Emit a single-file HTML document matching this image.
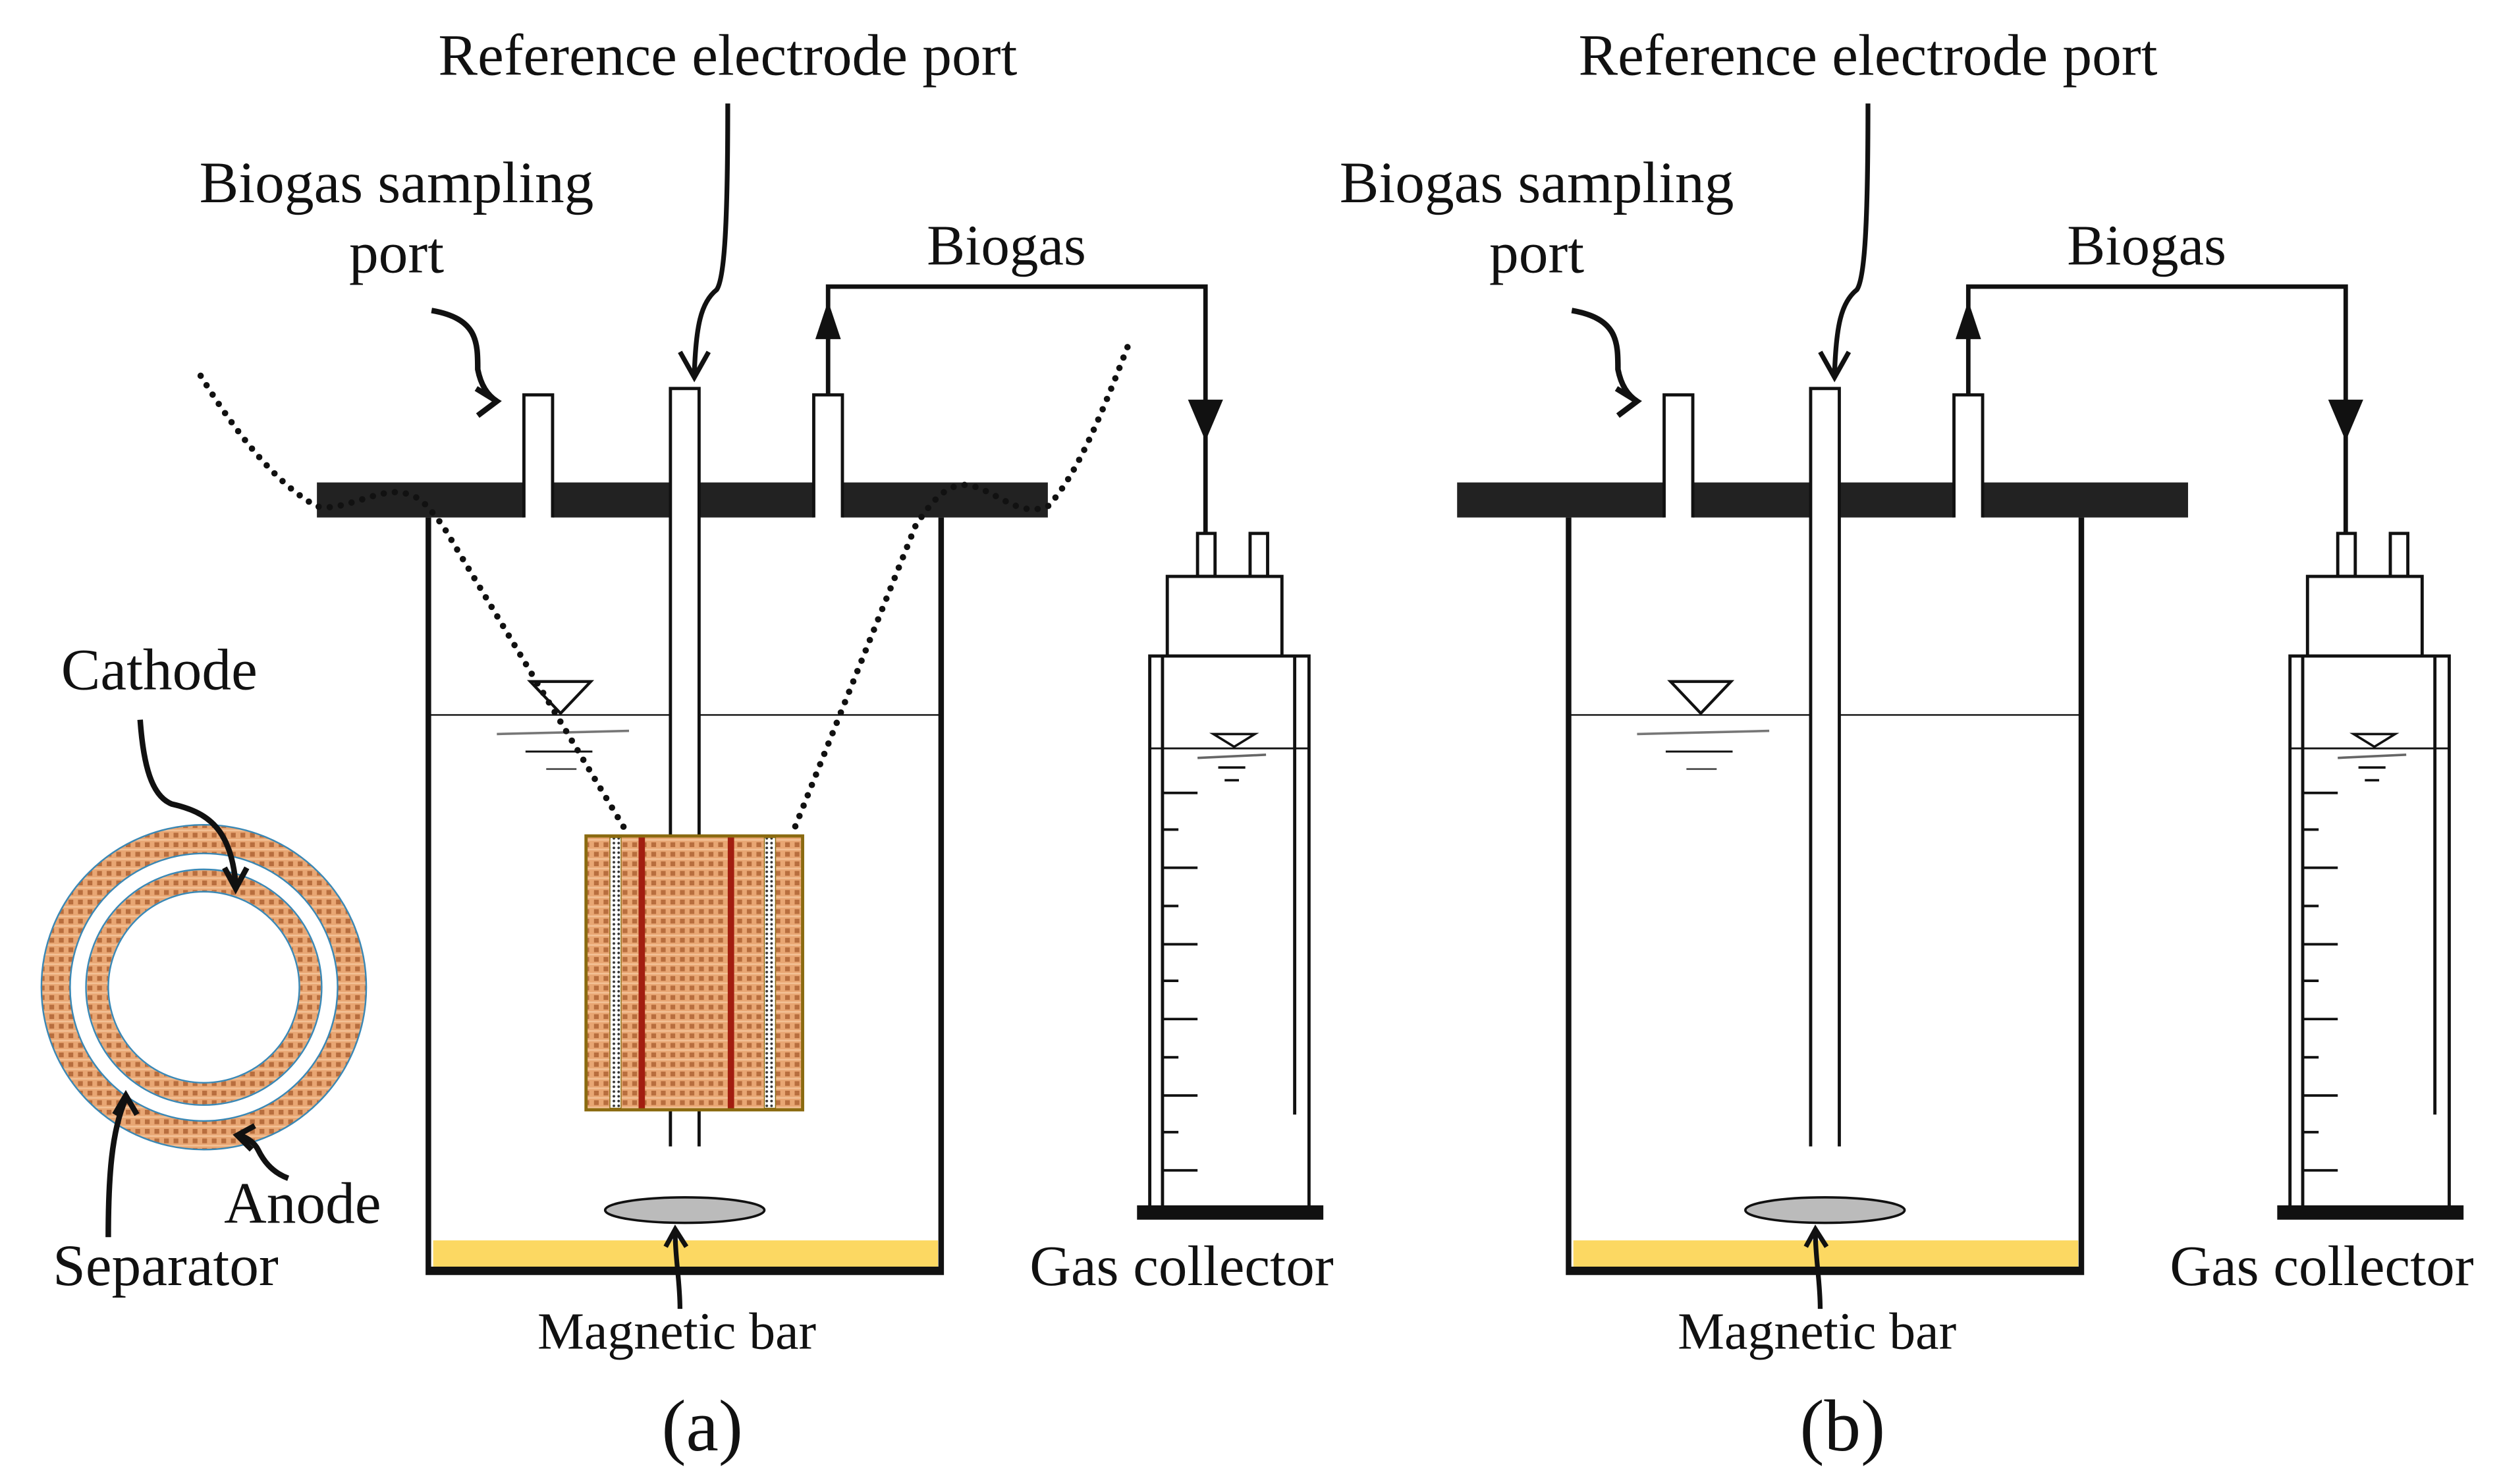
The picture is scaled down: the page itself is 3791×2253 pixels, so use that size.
<!DOCTYPE html>
<html><head><meta charset="utf-8"><style>
html,body{margin:0;padding:0;background:#fff;}
svg{display:block;}
text{font-family:"Liberation Serif",serif;fill:#111;}
</style></head><body>
<svg width="3791" height="2253" viewBox="0 0 1568 932" preserveAspectRatio="none" xmlns="http://www.w3.org/2000/svg">
<defs>
<pattern id="tex" width="6" height="6" patternUnits="userSpaceOnUse">
<rect width="6" height="6" fill="#e8a673"/>
<rect x="1" y="1" width="3" height="3" fill="#b86e3e"/>
<rect x="0" y="5" width="6" height="1" fill="#f3c196"/>
</pattern>
<pattern id="sep" width="3" height="3" patternUnits="userSpaceOnUse">
<rect width="3" height="3" fill="#fff"/>
<circle cx="1.5" cy="1.5" r="0.8" fill="#333"/>
</pattern>
<g id="collector" fill="none" stroke="#111">
<rect x="752" y="335" width="11" height="27" fill="#fff" stroke-width="2"/>
<rect x="785" y="335" width="11" height="27" fill="#fff" stroke-width="2"/>
<rect x="733" y="362" width="72" height="50" fill="#fff" stroke-width="2"/>
<rect x="722" y="412" width="100" height="348" fill="#fff" stroke-width="2"/>
<line x1="730" y1="412" x2="730" y2="758" stroke-width="2"/>
<line x1="813" y1="412" x2="813" y2="700" stroke-width="2"/>
<rect x="714" y="757" width="117" height="9" fill="#111" stroke="none"/>
<line x1="722" y1="470" x2="822" y2="470" stroke-width="1.2"/>
<path d="M762 461 L788 461 L775 469 Z" fill="#fff" stroke-width="1.5"/>
<line x1="752" y1="476" x2="795" y2="474" stroke-width="1.5" stroke="#666"/>
<line x1="765" y1="482" x2="782" y2="482" stroke-width="1.5"/>
<line x1="769" y1="490" x2="778" y2="490" stroke-width="1.5"/>
<g stroke-width="1.6">
<line x1="730" y1="498" x2="752" y2="498"/><line x1="730" y1="521" x2="740" y2="521"/>
<line x1="730" y1="545" x2="752" y2="545"/><line x1="730" y1="569" x2="740" y2="569"/>
<line x1="730" y1="593" x2="752" y2="593"/><line x1="730" y1="616" x2="740" y2="616"/>
<line x1="730" y1="640" x2="752" y2="640"/><line x1="730" y1="664" x2="740" y2="664"/>
<line x1="730" y1="688" x2="752" y2="688"/><line x1="730" y1="711" x2="740" y2="711"/>
<line x1="730" y1="735" x2="752" y2="735"/>
</g>
</g>
<g id="reactor">
<rect x="272" y="779" width="317" height="17" fill="#fcd862"/>
<path d="M269 325 L269 799 L591 799 L591 325" fill="none" stroke="#111" stroke-width="3.5"/>
<line x1="270" y1="797" x2="590" y2="797" stroke="#111" stroke-width="3"/>
<line x1="270" y1="449" x2="590" y2="449" stroke="#111" stroke-width="1"/>
<path d="M333 428 L371 428 L352 448 Z" fill="#fff" stroke="#111" stroke-width="1.8"/>
<line x1="312" y1="461" x2="395" y2="459" stroke="#777" stroke-width="1.5"/>
<line x1="330" y1="472" x2="372" y2="472" stroke="#111" stroke-width="1.2"/>
<line x1="343" y1="483" x2="362" y2="483" stroke="#555" stroke-width="1.2"/>
<rect x="199" y="303" width="130" height="22" fill="#222"/>
<rect x="347" y="303" width="74" height="22" fill="#222"/>
<rect x="439" y="303" width="72" height="22" fill="#222"/>
<rect x="529" y="303" width="129" height="22" fill="#222"/>
<path d="M329 325 L329 248 L347 248 L347 325" fill="#fff" stroke="#111" stroke-width="2"/>
<path d="M511 325 L511 248 L529 248 L529 325" fill="#fff" stroke="#111" stroke-width="2"/>
<path d="M421 720 L421 244 L439 244 L439 720" fill="#fff" stroke="#111" stroke-width="2"/>
<ellipse cx="430" cy="760" rx="50" ry="8" fill="#bbb" stroke="#111" stroke-width="1.5"/>
<path d="M427 822 C427 805 424 790 424 775" fill="none" stroke="#111" stroke-width="3"/>
<path d="M418 783 L424 772 L431 783" fill="none" stroke="#111" stroke-width="3"/>
<path d="M520 248 L520 180 L757 180 L757 335" fill="none" stroke="#111" stroke-width="2.8"/>
<path d="M512 213 L520 189 L528 213 Z" fill="#111"/>
<path d="M746 251 L757 277 L768 251 Z" fill="#111"/>
<path d="M271 195 C300 200 300 215 300 232 C302 242 306 248 312 252" fill="none" stroke="#111" stroke-width="3.5"/>
<path d="M299 244 L312 252 L300 261" fill="none" stroke="#111" stroke-width="3.5"/>
<path d="M457 65 C457 140 455 175 450 182 C440 190 437 205 436 235" fill="none" stroke="#111" stroke-width="3"/>
<path d="M427 221 L436 237 L445 221" fill="none" stroke="#111" stroke-width="3"/>
<text x="457" y="47" font-size="37" text-anchor="middle">Reference electrode port</text>
<text x="249" y="127" font-size="37" text-anchor="middle">Biogas sampling</text>
<text x="249" y="171" font-size="37" text-anchor="middle">port</text>
<text x="632" y="166" font-size="36" text-anchor="middle">Biogas</text>
<text x="742" y="807" font-size="36" text-anchor="middle">Gas collector</text>
<text x="425" y="847" font-size="33" text-anchor="middle">Magnetic bar</text>
<use href="#collector"/>
</g>
</defs>

<use href="#reactor"/>
<use href="#reactor" transform="translate(716,0)"/>

<rect x="368" y="525" width="136" height="172" fill="url(#tex)" stroke="#8a6a10" stroke-width="2"/>
<rect x="383" y="526" width="7" height="170" fill="url(#sep)" stroke="#8a6a10" stroke-width="0.6"/>
<rect x="480" y="526" width="7" height="170" fill="url(#sep)" stroke="#8a6a10" stroke-width="0.6"/>
<rect x="401" y="526" width="4" height="170" fill="#a21e10"/>
<rect x="457" y="526" width="4" height="170" fill="#a21e10"/>
<g fill="none" stroke="#111" stroke-width="4" stroke-dasharray="0 7" stroke-linecap="round">
<path d="M126 236 C150 275 175 305 199 318 C215 322 240 305 255 310 C265 312 270 320 278 330 L395 525"/>
<path d="M708 218 C690 265 675 300 658 318 C640 325 628 310 610 305 C595 302 585 315 575 330 L497 525"/>
</g>

<circle cx="128" cy="620" r="93" fill="none" stroke="url(#tex)" stroke-width="18"/>
<circle cx="128" cy="620" r="102" fill="none" stroke="#3a88b5" stroke-width="1"/>
<circle cx="128" cy="620" r="84" fill="none" stroke="#3a88b5" stroke-width="1"/>
<circle cx="128" cy="620" r="67" fill="none" stroke="url(#tex)" stroke-width="13"/>
<circle cx="128" cy="620" r="74" fill="none" stroke="#3a88b5" stroke-width="1"/>
<circle cx="128" cy="620" r="60" fill="none" stroke="#3a88b5" stroke-width="1"/>
<g fill="none" stroke="#111" stroke-width="3.5">
<path d="M88 452 C90 480 95 500 108 505 C130 510 145 520 148 555"/>
<path d="M141 545 L148 558 L155 545"/>
<path d="M68 777 C68 740 70 710 79 690"/>
<path d="M72 700 L79 688 L86 700"/>
<path d="M181 740 C170 736 165 728 162 722 C160 718 155 714 150 713"/>
<path d="M160 707 L149 713 L158 722"/>
</g>
<text x="100" y="433" font-size="37" text-anchor="middle">Cathode</text>
<text x="190" y="768" font-size="37" text-anchor="middle">Anode</text>
<text x="104" y="807" font-size="37" text-anchor="middle">Separator</text>
<text x="441" y="911" font-size="46" text-anchor="middle">(a)</text>
<text x="1157" y="911" font-size="46" text-anchor="middle">(b)</text>
</svg>
</body></html>
